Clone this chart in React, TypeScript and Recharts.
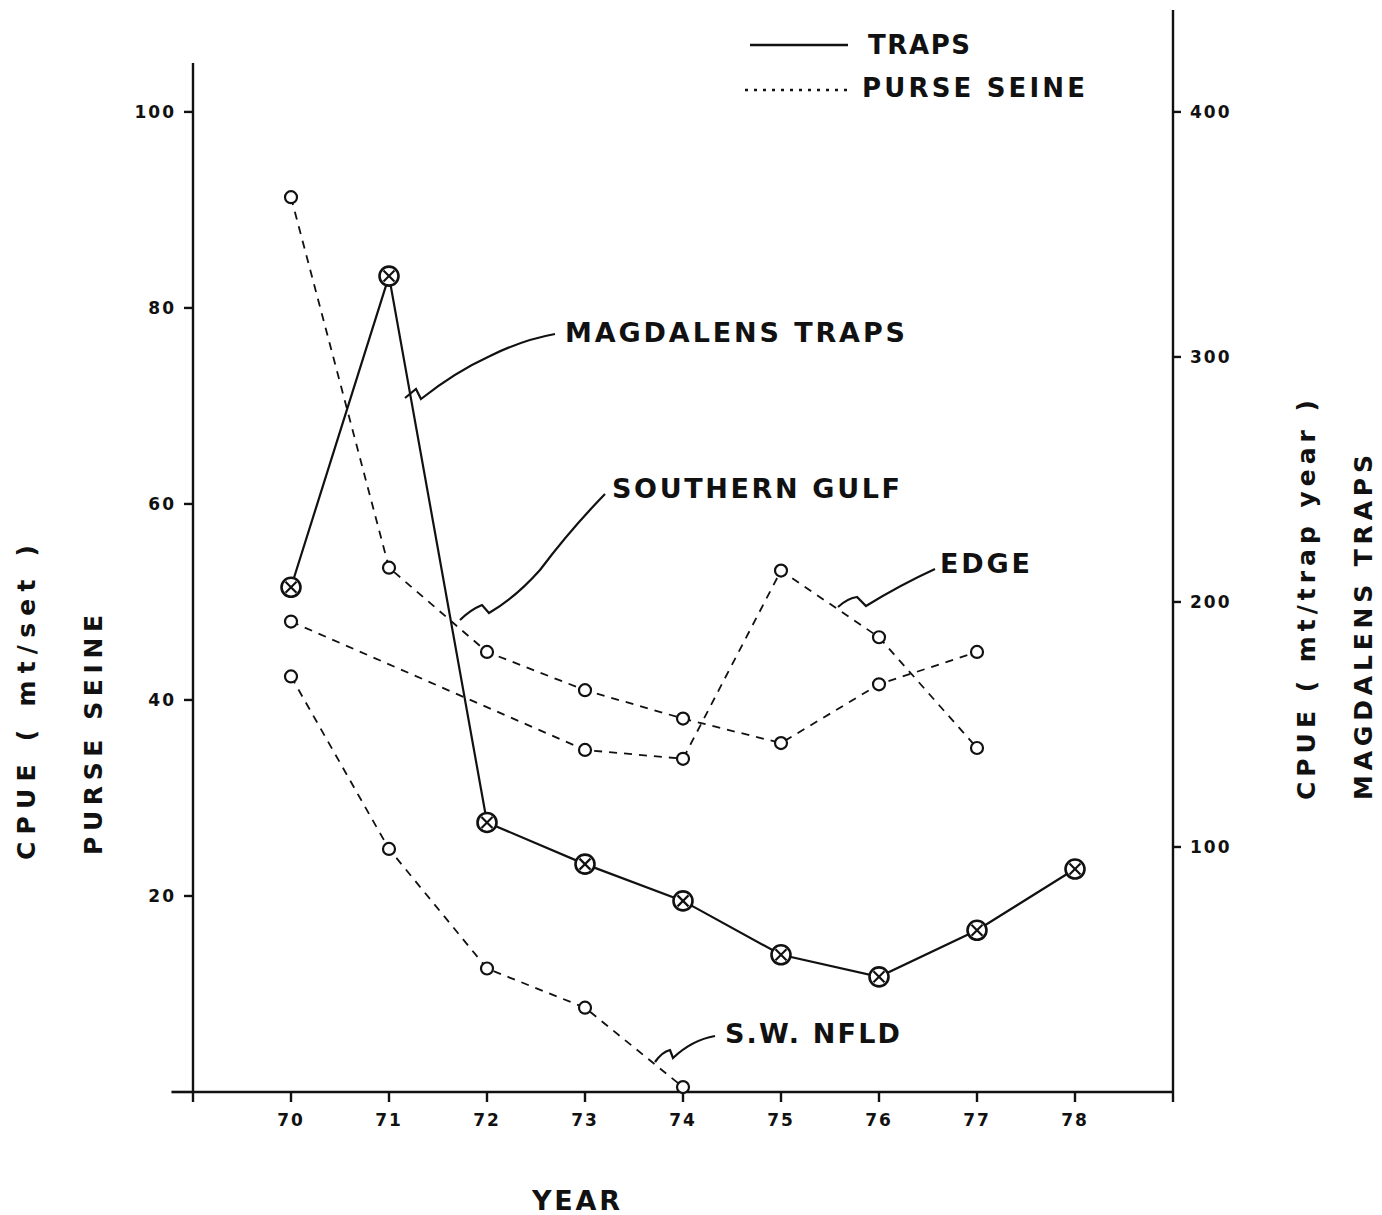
import React from 'react';
import { LineChart, Line, XAxis, YAxis, ReferenceLine } from 'recharts';

// years (19xx)
const years = [70, 71, 72, 73, 74, 75, 76, 77, 78];

// Magdalens traps, CPUE mt/trap year (right axis)
const magdalensTraps = [206, 333, 110, 93, 78, 56, 47, 66, 91];

// purse seine CPUE mt/set (left axis)
const southernGulf = [91.3, 53.5, 44.9, 41.0, 38.1, 35.6, 41.6, 44.9, null];
const edge = [48.0, null, null, 34.9, 34.0, 53.2, 46.4, 35.1, null];
const swNfld = [42.4, 24.8, 12.6, 8.6, 0.5, null, null, null, null];

const xTicks = [69, 70, 71, 72, 73, 74, 75, 76, 77, 78, 79];
const leftTicks = [20, 40, 60, 80, 100];
const rightTicks = [100, 200, 300, 400];

const data = years.map((year, i) => ({
    year,
    magdalens: magdalensTraps[i],
    southernGulf: southernGulf[i],
    edge: edge[i],
    swNfld: swNfld[i],
}));

const INK = '#111';
const FONT = '"DejaVu Sans", Verdana, sans-serif';

const tickStyle = { fontSize: 17, fontWeight: 700, fill: INK, fontFamily: FONT, letterSpacing: 2 };

// circle with a cross inside (traps)
const TrapDot = (props: any) => {
    const { cx, cy, index } = props;
    if (cx == null || cy == null) return <g key={`td${index}`} />;
    const d = 5.5;
    return (
        <g key={`td${index}`}>
            <circle cx={cx} cy={cy} r={9.5} fill="#fff" stroke={INK} strokeWidth={2.6} />
            <line x1={cx - d} y1={cy - d} x2={cx + d} y2={cy + d} stroke={INK} strokeWidth={2.2} />
            <line x1={cx - d} y1={cy + d} x2={cx + d} y2={cy - d} stroke={INK} strokeWidth={2.2} />
        </g>
    );
};

// open circle (purse seine)
const SeineDot = (props: any) => {
    const { cx, cy, index, dataKey } = props;
    if (cx == null || cy == null) return <g key={`sd${dataKey}${index}`} />;
    return <circle key={`sd${dataKey}${index}`} cx={cx} cy={cy} r={6} fill="#fff" stroke={INK} strokeWidth={2.2} />;
};

const txt = { fontFamily: FONT, fontWeight: 700, fill: INK } as const;

const Annotations = () => (
    <svg width={1382} height={1215} style={{ position: 'absolute', left: 0, top: 0, pointerEvents: 'none' }}>
        {/* legend */}
        <line x1={750} y1={45} x2={848} y2={45} stroke={INK} strokeWidth={2.6} />
        <text x={868} y={54} fontSize={26} textLength={102} lengthAdjust="spacing" style={txt}>TRAPS</text>
        <line x1={745} y1={90} x2={850} y2={90} stroke={INK} strokeWidth={2.6} strokeDasharray="3 6" />
        <text x={862} y={97} fontSize={26} textLength={223} lengthAdjust="spacing" style={txt}>PURSE SEINE</text>

        {/* series labels with leaders */}
        <text x={565} y={342} fontSize={27} textLength={340} lengthAdjust="spacing" style={txt}>MAGDALENS  TRAPS</text>
        <path d="M405 398 L416 389 L421 399 Q455 372 490 356 Q522 340 555 334" fill="none" stroke={INK} strokeWidth={2.2} />

        <text x={612} y={498} fontSize={27} textLength={288} lengthAdjust="spacing" style={txt}>SOUTHERN  GULF</text>
        <path d="M460 620 Q470 610 482 605 L489 613 Q515 598 540 570 Q570 530 605 494" fill="none" stroke={INK} strokeWidth={2.2} />

        <text x={940} y={573} fontSize={27} textLength={90} lengthAdjust="spacing" style={txt}>EDGE</text>
        <path d="M838 607 Q848 598 857 597 L866 606 Q900 585 935 569" fill="none" stroke={INK} strokeWidth={2.2} />

        <text x={725} y={1043} fontSize={27} textLength={175} lengthAdjust="spacing" style={txt}>S.W.  NFLD</text>
        <path d="M655 1062 Q662 1052 670 1050 L673 1058 Q692 1040 715 1036" fill="none" stroke={INK} strokeWidth={2.2} />

        {/* axis titles */}
        <text x={532} y={1210} fontSize={27} textLength={88} lengthAdjust="spacing" style={txt}>YEAR</text>
        <text transform="translate(35,860) rotate(-90)" fontSize={25} textLength={315} lengthAdjust="spacing" style={txt}>CPUE    ( mt/set )</text>
        <text transform="translate(102,855) rotate(-90)" fontSize={25} textLength={240} lengthAdjust="spacing" style={txt}>PURSE  SEINE</text>
        <text transform="translate(1315,800) rotate(-90)" fontSize={25} textLength={400} lengthAdjust="spacing" style={txt}>CPUE  ( mt/trap  year )</text>
        <text transform="translate(1372,800) rotate(-90)" fontSize={25} textLength={345} lengthAdjust="spacing" style={txt}>MAGDALENS  TRAPS</text>
    </svg>
);

export default function App() {
    return (
        <div style={{ position: 'absolute', left: 0, top: 0, width: 1382, height: 1215, background: '#fff' }}>
            <LineChart width={1382} height={1215} data={data} margin={{ top: 10, right: 0, bottom: 83, left: 0 }}>
                <XAxis
                    dataKey="year"
                    type="number"
                    domain={[69, 79]}
                    ticks={xTicks}
                    tickFormatter={(v: number) => (v === 69 || v === 79 ? '' : String(v))}
                    tick={tickStyle}
                    tickSize={10}
                    tickMargin={12}
                    height={40}
                    axisLine={{ stroke: INK, strokeWidth: 2.6 }}
                    tickLine={{ stroke: INK, strokeWidth: 2.4 }}
                />
                <YAxis
                    yAxisId="left"
                    domain={[0, 110.4]}
                    ticks={leftTicks}
                    width={193}
                    tick={tickStyle}
                    tickSize={9}
                    tickMargin={8}
                    axisLine={false}
                    tickLine={{ stroke: INK, strokeWidth: 2.4 }}
                />
                <YAxis
                    yAxisId="right"
                    orientation="right"
                    domain={[0, 441.6]}
                    ticks={rightTicks}
                    width={209}
                    tick={tickStyle}
                    tickSize={8}
                    tickMargin={9}
                    axisLine={{ stroke: INK, strokeWidth: 2.4 }}
                    tickLine={{ stroke: INK, strokeWidth: 2.4 }}
                />
                {/* left axis stops at ~105, x axis overhangs to the left */}
                <ReferenceLine yAxisId="left" segment={[{ x: 69, y: 0 }, { x: 69, y: 105 }]} stroke={INK} strokeWidth={2.4} ifOverflow="visible" />
                <ReferenceLine yAxisId="left" segment={[{ x: 68.78, y: 0 }, { x: 69, y: 0 }]} stroke={INK} strokeWidth={2.6} ifOverflow="visible" />

                <Line yAxisId="left" dataKey="southernGulf" type="linear" stroke={INK} strokeWidth={1.8} strokeDasharray="8 7" dot={SeineDot} connectNulls isAnimationActive={false} />
                <Line yAxisId="left" dataKey="edge" type="linear" stroke={INK} strokeWidth={1.8} strokeDasharray="8 7" dot={SeineDot} connectNulls isAnimationActive={false} />
                <Line yAxisId="left" dataKey="swNfld" type="linear" stroke={INK} strokeWidth={1.8} strokeDasharray="8 7" dot={SeineDot} connectNulls isAnimationActive={false} />
                <Line yAxisId="right" dataKey="magdalens" type="linear" stroke={INK} strokeWidth={2.2} dot={TrapDot} isAnimationActive={false} />
            </LineChart>
            <Annotations />
        </div>
    );
}
